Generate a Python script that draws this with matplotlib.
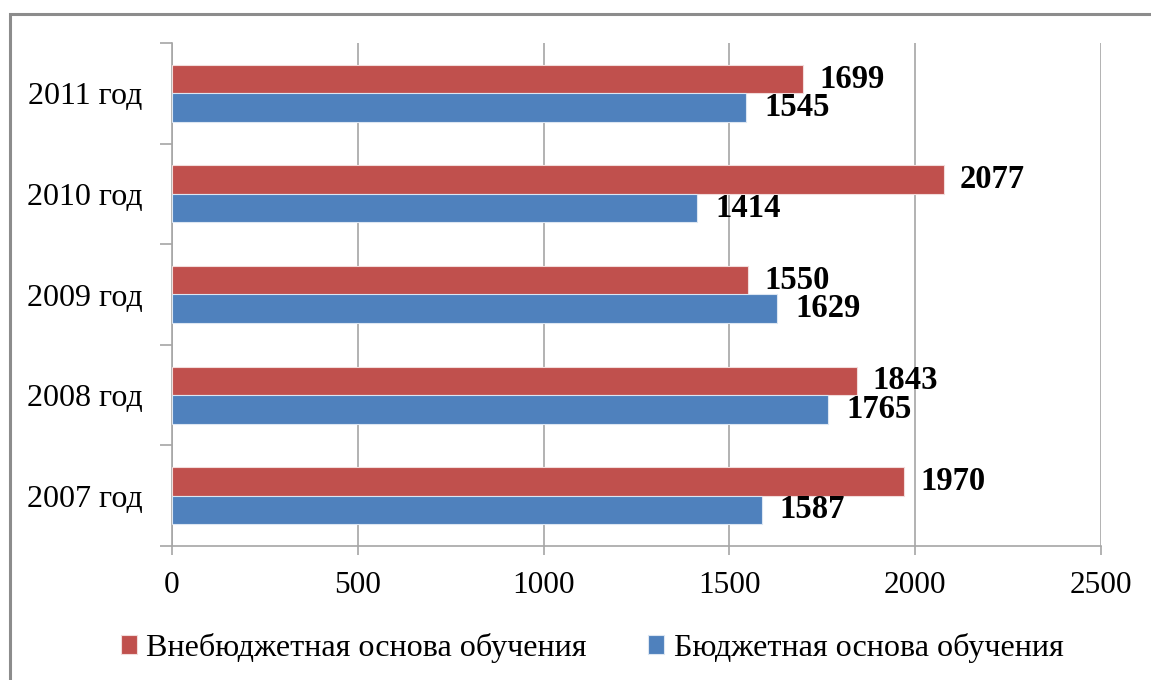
import matplotlib.pyplot as plt
from matplotlib.patches import Rectangle
import numpy as np

plt.rcParams['font.family'] = ['Liberation Serif', 'DejaVu Serif']

# данные
years = ['2007 год', '2008 год', '2009 год', '2010 год', '2011 год']
vnebudzhet = [1970, 1843, 1550, 2077, 1699]
budzhet = [1587, 1765, 1629, 1414, 1545]
name_vneb = 'Внебюджетная основа обучения'
name_budz = 'Бюджетная основа обучения'
xticks = [0, 500, 1000, 1500, 2000, 2500]

c_red = '#C0504D'
c_blue = '#4F81BD'
c_grid = '#A6A6A6'

fig = plt.figure(figsize=(11.51, 6.80), dpi=100)
ax = fig.add_axes([172/1151, 1-546/680, (1101-172)/1151, (546-43)/680])

y = np.arange(len(years))
h = 0.283
b1 = ax.barh(y + h/2, vnebudzhet, height=h, color=c_red, edgecolor='#F2DCDB', linewidth=0.8, label=name_vneb, zorder=3)
b2 = ax.barh(y - h/2, budzhet, height=h, color=c_blue, edgecolor='#DCE6F2', linewidth=0.8, label=name_budz, zorder=3)

# подписи значений
for yy, v in zip(y, vnebudzhet):
    ax.annotate(str(v), (v, yy + h/2), xytext=(11.5, 0), textcoords='offset points',
                ha='left', va='center', fontsize=23.5, fontweight='bold', zorder=4)
for yy, v in zip(y, budzhet):
    ax.annotate(str(v), (v, yy - h/2), xytext=(13, 0), textcoords='offset points',
                ha='left', va='center', fontsize=23.5, fontweight='bold', zorder=4)

ax.set_xlim(0, 2500)
ax.set_ylim(-0.5, len(years) - 0.5)
ax.set_xticks(xticks)
ax.set_xticklabels([str(t) for t in xticks], fontsize=22.5)
ax.set_yticks(y)
ax.set_yticklabels(years, fontsize=23)
ax.set_yticks(np.arange(-0.5, len(years)), minor=True)
ax.tick_params(axis='y', which='major', length=0, pad=21)
ax.tick_params(axis='y', which='minor', length=8.6, color=c_grid, width=1.2)
ax.tick_params(axis='x', length=6.5, color=c_grid, width=1.2, pad=11.5)

ax.grid(axis='x', color=c_grid, linewidth=1.2, zorder=0)
for s in ['top', 'right']:
    ax.spines[s].set_visible(False)
for s in ['left', 'bottom']:
    ax.spines[s].set_color(c_grid)
    ax.spines[s].set_linewidth(1.2)

fig.legend(handles=[b1, b2], loc='center', bbox_to_anchor=(592/1151, 1-648/680), ncol=2,
           frameon=False, fontsize=23.1, handlelength=0.5, handleheight=0.5,
           handletextpad=0.3, columnspacing=1.9)

# рамка
fig.add_artist(Rectangle((10/1151, -0.1), 1.2, 1+0.1-14/680, transform=fig.transFigure,
                         fill=False, edgecolor='#8C8C8C', linewidth=2.2))

plt.savefig('out.png', dpi=100)
